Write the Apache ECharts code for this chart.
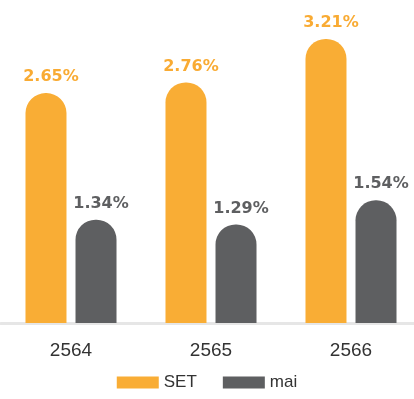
<!DOCTYPE html>
<html>
<head>
<meta charset="utf-8">
<script src="https://cdn.jsdelivr.net/npm/echarts@6/dist/echarts.min.js"></script>
<style>
html,body{margin:0;padding:0;background:#fff;}
#chart{width:414px;height:399px;}
</style>
</head>
<body>
<div id="chart"></div>
<script>
var categories = ['2564', '2565', '2566'];
var setValues = [2.65, 2.76, 3.21];
var maiValues = [1.34, 1.29, 1.54];
var seriesNames = ['SET', 'mai'];

var chart = echarts.init(document.getElementById('chart'));
var labelCommon = {
  show: true,
  position: 'top',
  distance: 8,
  offset: [5, 0],
  fontFamily: 'DejaVu Sans',
  fontWeight: 'bold',
  fontSize: 16,
  formatter: function (p) { return p.value.toFixed(2) + '%'; }
};
chart.setOption({
  animation: false,
  grid: { left: 1, right: -7, top: 11, bottom: 76, outerBoundsMode: 'none', containLabel: false },
  legend: {
    bottom: 3,
    left: 'center',
    itemWidth: 42,
    itemHeight: 12,
    itemGap: 26,
    icon: 'rect',
    textStyle: { fontFamily: 'Liberation Sans', fontSize: 17, color: '#333' },
    data: seriesNames
  },
  xAxis: {
    type: 'category',
    data: categories,
    axisTick: { show: false },
    axisLine: { lineStyle: { color: '#e6e6e6', width: 3 } },
    axisLabel: { fontFamily: 'Liberation Sans', fontSize: 19, color: '#333', margin: 18 }
  },
  yAxis: {
    type: 'value',
    min: 0.27,
    max: 3.5,
    show: false,
    splitLine: { show: false }
  },
  series: [
    {
      name: seriesNames[0],
      type: 'bar',
      data: setValues,
      barWidth: 41,
      barGap: '22%',
      itemStyle: { color: '#F9AD35', borderRadius: [20, 20, 0, 0] },
      label: Object.assign({ color: '#F9AB33' }, labelCommon)
    },
    {
      name: seriesNames[1],
      type: 'bar',
      data: maiValues,
      barWidth: 41,
      barGap: '22%',
      itemStyle: { color: '#5E5F61', borderRadius: [20, 20, 0, 0] },
      label: Object.assign({ color: '#5E5F61' }, labelCommon)
    }
  ]
});
</script>
</body>
</html>
